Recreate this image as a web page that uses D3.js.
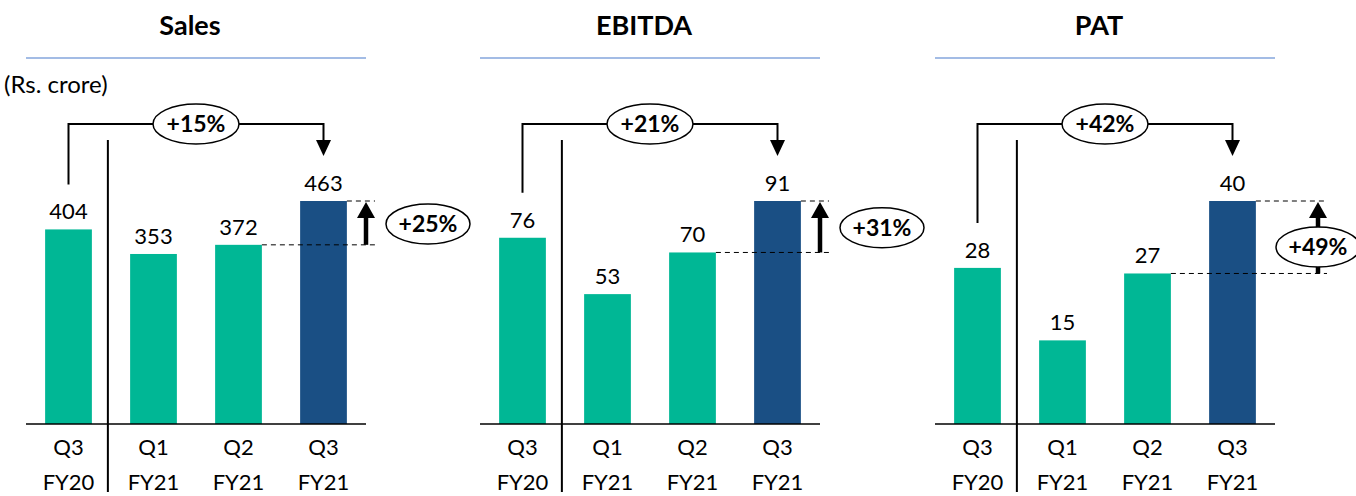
<!DOCTYPE html>
<html>
<head>
<meta charset="utf-8">
<script src="https://cdn.jsdelivr.net/npm/d3@7"></script>
<style>
  body { margin: 0; background: #fff; }
  svg text { font-family: Lato, "Noto Sans", sans-serif; }
</style>
</head>
<body>
<div id="main"></div>
<script>
// chart data
var categories = [["Q3", "FY20"], ["Q1", "FY21"], ["Q2", "FY21"], ["Q3", "FY21"]];
var panelTitles = ["Sales", "EBITDA", "PAT"];
var salesValues = [404, 353, 372, 463];
var ebitdaValues = [76, 53, 70, 91];
var patValues = [28, 15, 27, 40];
var yoyLabels = ["+15%", "+21%", "+42%"];
var qoqLabels = ["+25%", "+31%", "+49%"];
var unitLabel = "(Rs. crore)";

var WIDTH = 1356, HEIGHT = 496;
var TEAL = "#00b795", BLUE = "#1a4f84";
var panelOffsets = [0, 454, 909];
var baseY = 424, topY = 201;

var svg = d3.select("#main").append("svg")
	.attr("width", WIDTH)
	.attr("height", HEIGHT);

svg.append("text")
	.attr("x", 4).attr("y", 93)
	.attr("font-size", 24)
	.text(unitLabel);

var seriesList = [salesValues, ebitdaValues, patValues];

seriesList.forEach(function(values, p) {
	var ox = panelOffsets[p];
	var g = svg.append("g").attr("transform", "translate(" + ox + ",0)");

	var x = d3.scaleBand()
		.domain(d3.range(categories.length))
		.range([26, 366])
		.paddingInner(0.45)
		.paddingOuter(0.225);
	var y = d3.scaleLinear()
		.domain([0, d3.max(values)])
		.range([baseY, topY]);
	var cx = function(i) { return x(i) + x.bandwidth() / 2; };

	// title + rule
	g.append("text")
		.attr("x", 190).attr("y", 35)
		.attr("text-anchor", "middle")
		.attr("font-size", 27)
		.attr("font-weight", "bold")
		.text(panelTitles[p]);
	g.append("line")
		.attr("x1", 26).attr("x2", 366)
		.attr("y1", 58).attr("y2", 58)
		.attr("stroke", "#84a6dd").attr("stroke-width", 1.5);

	// bars
	g.selectAll("rect.bar").data(values).enter().append("rect")
		.attr("class", "bar")
		.attr("x", function(d, i) { return x(i); })
		.attr("width", x.bandwidth())
		.attr("y", function(d) { return y(d); })
		.attr("height", function(d) { return baseY - y(d); })
		.attr("fill", function(d, i) { return i == values.length - 1 ? BLUE : TEAL; });

	g.selectAll("text.val").data(values).enter().append("text")
		.attr("class", "val")
		.attr("x", function(d, i) { return cx(i); })
		.attr("y", function(d) { return y(d) - 10; })
		.attr("text-anchor", "middle")
		.attr("font-size", 22)
		.text(function(d) { return d; });

	// baseline
	g.append("line")
		.attr("x1", 26).attr("x2", 366)
		.attr("y1", baseY).attr("y2", baseY)
		.attr("stroke", "#000").attr("stroke-width", 1.5);

	// category labels
	var lab = g.selectAll("text.cat").data(categories).enter().append("text")
		.attr("class", "cat")
		.attr("text-anchor", "middle")
		.attr("font-size", 22);
	lab.append("tspan")
		.attr("x", function(d, i) { return cx(i); })
		.attr("y", 455)
		.text(function(d) { return d[0]; });
	lab.append("tspan")
		.attr("x", function(d, i) { return cx(i); })
		.attr("y", 490)
		.text(function(d) { return d[1]; });

	// divider between FY20 and FY21
	var divX = x(0) + x.bandwidth() + 16;
	g.append("line")
		.attr("x1", divX).attr("x2", divX)
		.attr("y1", 140).attr("y2", 492)
		.attr("stroke", "#000").attr("stroke-width", 2);

	// year-on-year bracket
	var last = values.length - 1;
	var x0 = cx(0), x3 = cx(last), by = 124;
	g.append("path")
		.attr("d", "M" + x0 + "," + (y(values[0]) - 45) + "V" + by + "H" + x3 + "V" + 141)
		.attr("fill", "none").attr("stroke", "#000").attr("stroke-width", 2);
	g.append("path")
		.attr("d", "M" + (x3 - 7.5) + ",140L" + (x3 + 7.5) + ",140L" + x3 + ",156Z")
		.attr("fill", "#000");
	var ex = (x0 + x3) / 2;
	g.append("ellipse")
		.attr("cx", ex).attr("cy", by).attr("rx", 43).attr("ry", 20)
		.attr("fill", "#fff").attr("stroke", "#000").attr("stroke-width", 1.5);
	g.append("text")
		.attr("x", ex).attr("y", by + 8)
		.attr("text-anchor", "middle")
		.attr("font-size", 23).attr("font-weight", "bold")
		.text(yoyLabels[p]);

	// quarter-on-quarter arrow
	var yTop = y(values[last]), yLow = y(values[last - 1]);
	var ax = p == 2 ? 409 : 366;
	var dashEnd = ax + 9;
	g.append("line")
		.attr("x1", x(last) + x.bandwidth()).attr("x2", dashEnd)
		.attr("y1", yTop).attr("y2", yTop)
		.attr("stroke", "#000").attr("stroke-dasharray", "5,4");
	g.append("line")
		.attr("x1", x(last - 1) + x.bandwidth()).attr("x2", dashEnd)
		.attr("y1", yLow).attr("y2", yLow)
		.attr("stroke", "#000").attr("stroke-dasharray", "5,4");
	g.append("line")
		.attr("x1", ax).attr("x2", ax)
		.attr("y1", yLow).attr("y2", yTop + 14)
		.attr("stroke", "#000").attr("stroke-width", 4.5);
	g.append("path")
		.attr("d", "M" + (ax - 9) + "," + (yTop + 17) + "L" + (ax + 9) + "," + (yTop + 17) + "L" + ax + "," + (yTop + 1) + "Z")
		.attr("fill", "#000");

	var qx = p == 2 ? ax : ax + 62;
	var qy = p == 2 ? 247 : (yTop + yLow) / 2 + 1;
	g.append("ellipse")
		.attr("cx", qx).attr("cy", qy).attr("rx", 42).attr("ry", 20)
		.attr("fill", "#fff").attr("stroke", "#000").attr("stroke-width", 1.5);
	g.append("text")
		.attr("x", qx).attr("y", qy + 8)
		.attr("text-anchor", "middle")
		.attr("font-size", 23).attr("font-weight", "bold")
		.text(qoqLabels[p]);
});
</script>
</body>
</html>
